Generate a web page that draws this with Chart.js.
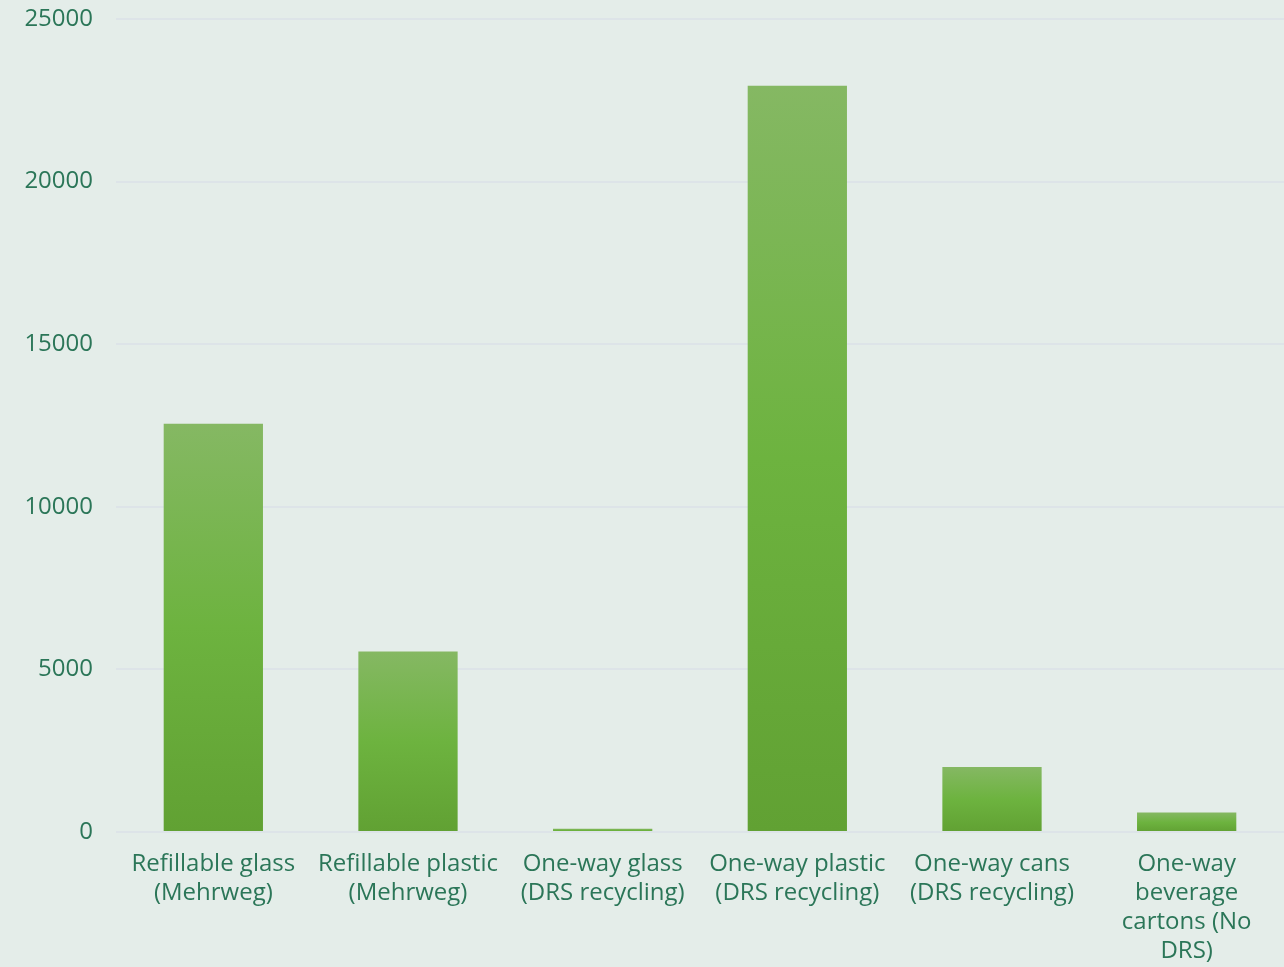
<!DOCTYPE html>
<html>
<head>
<meta charset="utf-8">
<script src="https://cdn.jsdelivr.net/npm/chart.js@4"></script>
<style>
  html, body { margin: 0; padding: 0; background: #e4ede9; }
  #wrap { width: 1284px; height: 967px; }
</style>
</head>
<body>
<div id="wrap"><canvas id="grafico"></canvas></div>
<script>
// categorias (rótulos quebrados em linhas como no original)
const categorias = [
    ['Refillable glass', '(Mehrweg)'],
    ['Refillable plastic', '(Mehrweg)'],
    ['One-way glass', '(DRS recycling)'],
    ['One-way plastic', '(DRS recycling)'],
    ['One-way cans', '(DRS recycling)'],
    ['One-way', 'beverage', 'cartons (No', 'DRS)']
];
const valores = [12550, 5550, 100, 22950, 2000, 600];
const ticksY = [0, 5000, 10000, 15000, 20000, 25000];

const corTexto = '#2b7658';
const fonte = { family: "'Open Sans', sans-serif", size: 24 };

// gradiente por barra: claro em cima, escuro embaixo
function corBarra(ctx) {
    const chart = ctx.chart;
    const y = chart.scales && chart.scales.y;
    if (!chart.chartArea || !y) return '#6db33f';
    const topo = y.getPixelForValue(ctx.raw);
    const base = y.getPixelForValue(0);
    if (!isFinite(topo) || base - topo < 1) return '#6db33f';
    const g = chart.ctx.createLinearGradient(0, topo, 0, base);
    g.addColorStop(0, '#85b863');
    g.addColorStop(0.5, '#6db33f');
    g.addColorStop(1, '#61a133');
    return g;
}

new Chart(document.getElementById('grafico'), {
    type: 'bar',
    data: {
        labels: categorias,
        datasets: [{
            data: valores,
            backgroundColor: corBarra,
            borderWidth: 0,
            barPercentage: 0.51,
            categoryPercentage: 1
        }]
    },
    options: {
        responsive: true,
        maintainAspectRatio: false,
        animation: false,
        layout: { padding: 0 },
        plugins: { legend: { display: false }, tooltip: { enabled: false } },
        scales: {
            x: {
                grid: { display: false, drawTicks: false },
                border: { display: false },
                ticks: { color: corTexto, font: { ...fonte, lineHeight: '29px' }, padding: 18, maxRotation: 0, autoSkip: false },
                afterFit: (axis) => { axis.height = 135; axis.paddingLeft = 0; axis.paddingRight = 0; }
            },
            y: {
                min: 0,
                max: 25000,
                afterBuildTicks: (axis) => { axis.ticks = ticksY.map(v => ({ value: v })); },
                grid: { color: '#dde4e8', lineWidth: 2, drawTicks: false },
                border: { display: false },
                ticks: { color: corTexto, font: fonte, padding: 23, callback: (v) => String(v) },
                afterFit: (axis) => { axis.width = 116; axis.paddingTop = 19; axis.paddingBottom = 0; }
            }
        }
    }
});
</script>
</body>
</html>
